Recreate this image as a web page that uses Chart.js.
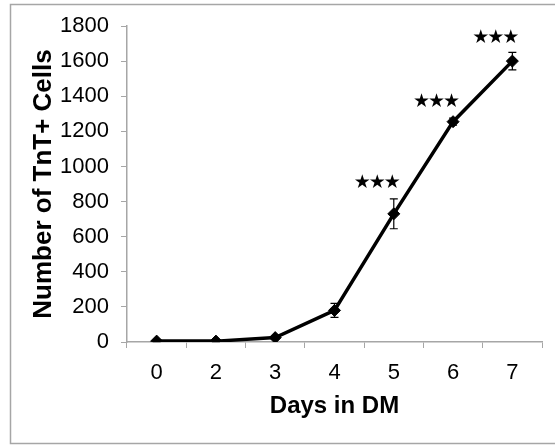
<!DOCTYPE html>
<html>
<head>
<meta charset="utf-8">
<script src="https://cdn.jsdelivr.net/npm/chart.js@4"></script>
<style>
  html, body { margin: 0; padding: 0; background: #fff; }
  #wrap { position: relative; width: 555px; height: 445px; }
</style>
</head>
<body>
<div id="wrap"><canvas id="chart" width="555" height="445"></canvas></div>
<script>
const days = ['0', '2', '3', '4', '5', '6', '7'];
const cells = [5, 5, 25, 180, 730, 1255, 1600];
const cellErrors = [3, 3, 8, 40, 85, 20, 50];
const starMarks = ['', '', '', '', '★★★', '★★★', '★★★'];
const starLevels = [null, null, null, null, 905, 1367, 1731];
const yTicks = [0, 200, 400, 600, 800, 1000, 1200, 1400, 1600, 1800];

const axisGrey = '#a6a6a6';

// frame around the whole figure
const framePlugin = {
  id: 'frame',
  beforeDraw(chart) {
    const { ctx } = chart;
    ctx.save();
    ctx.fillStyle = '#fff';
    ctx.fillRect(0, 0, chart.width, chart.height);
    ctx.strokeStyle = axisGrey;
    ctx.lineWidth = 1.5;
    ctx.strokeRect(10.5, 4.5, chart.width, chart.height - 6);
    ctx.restore();
  },
};

// error bars and significance stars
const extrasPlugin = {
  id: 'extras',
  afterDatasetsDraw(chart) {
    const { ctx, scales: { x, y } } = chart;
    ctx.save();
    ctx.strokeStyle = '#000';
    ctx.lineWidth = 1.2;
    cells.forEach((v, i) => {
      const px = x.getPixelForValue(i);
      const top = y.getPixelForValue(v + cellErrors[i]);
      const bot = y.getPixelForValue(v - cellErrors[i]);
      ctx.beginPath();
      ctx.moveTo(px, top); ctx.lineTo(px, bot);
      ctx.moveTo(px - 4, top); ctx.lineTo(px + 4, top);
      ctx.moveTo(px - 4, bot); ctx.lineTo(px + 4, bot);
      ctx.stroke();
    });
    ctx.fillStyle = '#000';
    ctx.font = '19px "DejaVu Sans"';
    ctx.letterSpacing = '-2px';
    ctx.textAlign = 'right';
    ctx.textBaseline = 'middle';
    starMarks.forEach((s, i) => {
      if (!s) return;
      ctx.fillText(s, x.getPixelForValue(i) + 5, y.getPixelForValue(starLevels[i]));
    });
    ctx.restore();
  },
};

new Chart(document.getElementById('chart'), {
  type: 'line',
  data: {
    labels: days,
    datasets: [{
      data: cells,
      borderColor: '#000',
      backgroundColor: '#000',
      borderWidth: 3.5,
      pointStyle: 'rectRot',
      pointRadius: 6,
      pointBorderWidth: 1,
      tension: 0,
    }],
  },
  options: {
    responsive: false,
    animation: false,
    layout: { padding: { left: 0, right: 13, top: 26, bottom: 0 } },
    plugins: { legend: { display: false }, tooltip: { enabled: false } },
    scales: {
      x: {
        type: 'category',
        offset: true,
        grid: { offset: true, drawOnChartArea: false, drawTicks: true, tickLength: 6, color: axisGrey },
        border: { color: axisGrey, width: 1.5 },
        ticks: { color: '#000', padding: 12, font: { family: 'Liberation Sans', size: 22 } },
        title: {
          display: true,
          text: 'Days in DM',
          color: '#000',
          font: { family: 'Liberation Sans', size: 24, weight: 'bold' },
          padding: { top: 4, bottom: 24 },
        },
        afterFit(scale) { scale.height = 103; },
      },
      y: {
        min: 0,
        max: 1800,
        afterBuildTicks(scale) { scale.ticks = yTicks.map(v => ({ value: v })); },
        grid: { drawOnChartArea: false, drawTicks: true, tickLength: 6, color: axisGrey },
        border: { color: axisGrey, width: 1.5 },
        ticks: {
          color: '#000',
          padding: 12,
          font: { family: 'Liberation Sans', size: 22 },
          callback: v => String(v),
        },
        title: {
          display: true,
          text: 'Number of TnT+ Cells',
          color: '#000',
          font: { family: 'Liberation Sans', size: 26, weight: 'bold' },
          padding: { top: 28, bottom: 0 },
        },
        afterFit(scale) { scale.width = 127; },
      },
    },
  },
  plugins: [framePlugin, extrasPlugin],
});
</script>
</body>
</html>
